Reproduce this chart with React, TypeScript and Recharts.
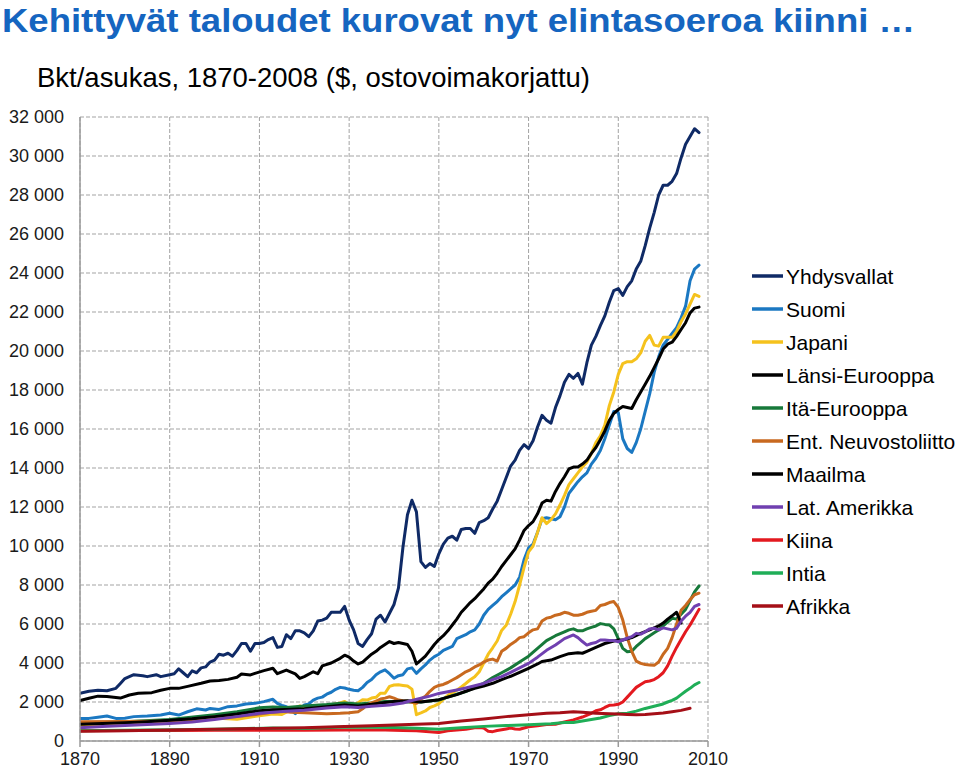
import React from 'react';
import { LineChart, Line, XAxis, YAxis, CartesianGrid } from 'recharts';

type Pt = [number, number];

const yhdysvallat: Pt[] = [
  [1870,2450],[1872,2550],[1874,2600],[1876,2580],[1878,2700],[1879,2950],[1880,3200],[1882,3400],[1884,3350],[1885,3300],
  [1887,3400],[1888,3300],[1890,3400],[1891,3450],[1892,3700],[1893,3500],[1894,3300],[1895,3600],[1896,3500],[1897,3750],
  [1898,3800],[1899,4050],[1900,4150],[1901,4450],[1902,4400],[1903,4500],[1904,4350],[1905,4650],[1906,5000],[1907,5000],
  [1908,4600],[1909,5000],[1910,5000],[1911,5050],[1912,5200],[1913,5300],[1914,4800],[1915,4850],[1916,5450],[1917,5250],
  [1918,5650],[1919,5650],[1920,5550],[1921,5350],[1922,5650],[1923,6150],[1924,6200],[1925,6300],[1926,6600],[1927,6600],
  [1928,6600],[1929,6900],[1930,6200],[1931,5700],[1932,5000],[1933,4850],[1934,5200],[1935,5500],[1936,6250],[1937,6450],
  [1938,6100],[1939,6550],[1940,7000],[1941,7850],[1942,9950],[1943,11600],[1944,12350],[1945,11750],[1946,9200],[1947,8900],
  [1948,9100],[1949,8950],[1950,9600],[1951,10100],[1952,10400],[1953,10500],[1954,10300],[1955,10850],[1956,10900],[1957,10900],
  [1958,10650],[1959,11200],[1960,11300],[1961,11450],[1962,11900],[1963,12300],[1964,12900],[1965,13500],[1966,14100],[1967,14400],
  [1968,14900],[1969,15200],[1970,15000],[1971,15400],[1972,16100],[1973,16700],[1974,16450],[1975,16300],[1976,17100],[1977,17700],
  [1978,18400],[1979,18800],[1980,18600],[1981,18850],[1982,18300],[1983,19400],[1984,20300],[1985,20750],[1986,21300],[1987,21800],
  [1988,22500],[1989,23100],[1990,23200],[1991,22850],[1992,23300],[1993,23600],[1994,24200],[1995,24600],[1996,25400],[1997,26300],
  [1998,27100],[1999,28000],[2000,28500],[2001,28500],[2002,28700],[2003,29100],[2004,29900],[2005,30600],[2006,31000],[2007,31400],
  [2008,31200],
];

const suomi: Pt[] = [
  [1870,1160],[1872,1160],[1874,1220],[1876,1280],[1878,1160],[1880,1170],[1882,1250],[1885,1280],[1888,1330],[1890,1420],
  [1892,1330],[1894,1500],[1896,1650],[1898,1590],[1899,1670],[1901,1620],[1903,1760],[1905,1800],[1907,1900],[1909,1930],
  [1911,2020],[1913,2140],[1914,1930],[1915,1830],[1916,1760],[1917,1600],[1918,1400],[1919,1600],[1920,1850],[1921,1900],
  [1922,2100],[1923,2200],[1924,2250],[1925,2400],[1926,2500],[1927,2650],[1928,2750],[1929,2720],[1930,2650],[1931,2600],
  [1932,2580],[1933,2750],[1934,3000],[1935,3150],[1936,3400],[1937,3550],[1938,3650],[1939,3450],[1940,3220],[1941,3350],
  [1942,3400],[1943,3700],[1944,3750],[1945,3470],[1946,3700],[1947,3900],[1948,4150],[1949,4330],[1950,4450],[1951,4650],
  [1952,4750],[1953,4850],[1954,5250],[1955,5350],[1956,5450],[1957,5600],[1958,5700],[1959,6000],[1960,6450],[1961,6750],
  [1962,6950],[1963,7150],[1964,7400],[1965,7600],[1966,7800],[1967,8000],[1968,8400],[1969,9300],[1970,9900],[1971,10100],
  [1972,10700],[1973,11400],[1974,11450],[1975,11400],[1976,11350],[1977,11500],[1978,12000],[1979,12700],[1980,13000],[1981,13300],
  [1982,13550],[1983,13750],[1984,14200],[1985,14500],[1986,14900],[1987,15500],[1988,16200],[1989,16900],[1990,16850],[1991,15500],
  [1992,15000],[1993,14800],[1994,15300],[1995,16000],[1996,16900],[1997,17800],[1998,18900],[1999,19700],[2000,20300],[2001,20600],
  [2002,20900],[2003,21200],[2004,21700],[2005,22300],[2006,23600],[2007,24200],[2008,24400],
];

const japani: Pt[] = [
  [1870,740],[1875,800],[1880,860],[1885,870],[1890,1010],[1895,1070],[1900,1180],[1905,1110],[1910,1300],[1913,1390],
  [1915,1360],[1917,1600],[1919,1800],[1920,1700],[1922,1750],[1925,1800],[1928,1950],[1929,2030],[1930,1850],[1931,1850],
  [1932,1960],[1933,2120],[1934,2100],[1935,2200],[1936,2240],[1937,2450],[1938,2450],[1939,2800],[1940,2870],[1941,2880],
  [1942,2850],[1943,2820],[1944,2660],[1945,1350],[1946,1440],[1947,1540],[1948,1720],[1949,1800],[1950,1920],[1951,2130],
  [1952,2340],[1953,2470],[1954,2600],[1955,2770],[1956,2950],[1957,3140],[1958,3290],[1959,3550],[1960,4000],[1961,4450],
  [1962,4780],[1963,5130],[1964,5670],[1965,5930],[1966,6500],[1967,7150],[1968,8000],[1969,8900],[1970,9700],[1971,10000],
  [1972,10700],[1973,11450],[1974,11150],[1975,11350],[1976,11650],[1977,12100],[1978,12600],[1979,13150],[1980,13450],[1981,13750],
  [1982,14050],[1983,14300],[1984,14750],[1985,15300],[1986,15650],[1987,16200],[1988,17200],[1989,17900],[1990,18800],[1991,19350],
  [1992,19450],[1993,19450],[1994,19600],[1995,19900],[1996,20500],[1997,20800],[1998,20300],[1999,20250],[2000,20700],[2001,20700],
  [2002,20700],[2003,21000],[2004,21500],[2005,21900],[2006,22400],[2007,22900],[2008,22800],
];

const lansiEurooppa: Pt[] = [
  [1870,2070],[1872,2190],[1874,2300],[1876,2280],[1877,2260],[1879,2200],[1881,2360],[1883,2450],[1886,2480],[1888,2600],
  [1890,2700],[1892,2700],[1894,2800],[1897,2960],[1899,3080],[1901,3100],[1903,3160],[1905,3270],[1906,3440],[1908,3390],
  [1909,3470],[1911,3610],[1913,3730],[1914,3450],[1916,3640],[1918,3440],[1919,3210],[1920,3300],[1922,3550],[1923,3450],
  [1924,3850],[1926,4000],[1928,4240],[1929,4400],[1930,4300],[1931,4100],[1932,3950],[1933,4050],[1934,4250],[1935,4450],
  [1936,4600],[1937,4800],[1938,4950],[1939,5100],[1940,5000],[1941,5050],[1942,5000],[1943,4950],[1944,4600],[1945,3950],
  [1946,4150],[1947,4350],[1948,4650],[1949,4950],[1950,5200],[1951,5400],[1952,5650],[1953,5950],[1954,6250],[1955,6600],
  [1956,6850],[1957,7100],[1958,7300],[1959,7550],[1960,7800],[1961,8100],[1962,8300],[1963,8600],[1964,8950],[1965,9250],
  [1966,9550],[1967,9850],[1968,10300],[1969,10800],[1970,11050],[1971,11250],[1972,11650],[1973,12200],[1974,12350],[1975,12300],
  [1976,12800],[1977,13200],[1978,13550],[1979,13950],[1980,14050],[1981,14050],[1982,14200],[1983,14400],[1984,14750],[1985,15050],
  [1986,15450],[1987,15900],[1988,16450],[1989,16800],[1990,17000],[1991,17150],[1992,17100],[1993,17050],[1994,17500],[1995,17900],
  [1996,18300],[1997,18700],[1998,19150],[1999,19600],[2000,20100],[2001,20350],[2002,20450],[2003,20750],[2004,21100],[2005,21450],
  [2006,21950],[2007,22200],[2008,22250],
];

const itaEurooppa: Pt[] = [
  [1870,900],[1880,990],[1890,1100],[1900,1350],[1905,1500],[1910,1700],[1913,1750],[1916,1720],[1920,1800],[1925,1870],
  [1929,1950],[1932,1900],[1935,1950],[1938,2020],[1940,2030],[1943,2000],[1946,2000],[1950,2100],[1952,2250],[1954,2400],
  [1956,2530],[1958,2750],[1960,2960],[1962,3250],[1964,3500],[1966,3750],[1968,4050],[1970,4350],[1972,4750],[1974,5150],
  [1976,5400],[1978,5600],[1979,5700],[1980,5750],[1981,5650],[1982,5650],[1983,5750],[1984,5830],[1985,5900],[1986,6020],
  [1987,5980],[1988,5950],[1989,5750],[1990,5250],[1991,4750],[1992,4580],[1993,4600],[1994,4850],[1995,5050],[1996,5250],
  [1997,5400],[1998,5550],[1999,5690],[2000,5900],[2001,6100],[2002,6290],[2003,6250],[2004,6500],[2005,6750],[2006,7200],
  [2007,7650],[2008,7950],
];

const entNeuvostoliitto: Pt[] = [
  [1870,990],[1880,1000],[1890,1030],[1895,1100],[1900,1230],[1905,1250],[1910,1380],[1913,1480],[1915,1520],[1917,1480],
  [1920,1450],[1925,1400],[1928,1420],[1930,1450],[1932,1500],[1933,1650],[1934,1850],[1935,1950],[1936,2050],[1937,2150],
  [1938,2200],[1939,2270],[1940,2200],[1941,2100],[1942,2060],[1943,2040],[1944,1980],[1945,1930],[1946,2150],[1947,2300],
  [1948,2550],[1949,2750],[1950,2850],[1951,2900],[1952,3000],[1953,3130],[1954,3250],[1955,3400],[1956,3550],[1957,3650],
  [1958,3800],[1959,3900],[1960,4050],[1961,4150],[1962,4200],[1963,4100],[1964,4600],[1965,4750],[1966,4950],[1967,5100],
  [1968,5300],[1969,5350],[1970,5550],[1971,5700],[1972,5750],[1973,6150],[1974,6300],[1975,6350],[1976,6450],[1977,6500],
  [1978,6600],[1979,6550],[1980,6450],[1981,6450],[1982,6500],[1983,6600],[1984,6650],[1985,6700],[1986,6950],[1987,7000],
  [1988,7100],[1989,7150],[1990,6850],[1991,6200],[1992,5300],[1993,4600],[1994,4100],[1995,3980],[1996,3920],[1997,3900],
  [1998,3880],[1999,4050],[2000,4450],[2001,4750],[2002,5300],[2003,6000],[2004,6700],[2005,6950],[2006,7250],[2007,7500],
  [2008,7580],
];

const maailma: Pt[] = [
  [1870,860],[1875,900],[1880,940],[1885,990],[1890,1060],[1895,1140],[1900,1250],[1905,1380],[1910,1550],[1913,1600],
  [1916,1620],[1920,1650],[1925,1760],[1929,1850],[1932,1800],[1935,1880],[1938,1980],[1940,2030],[1943,2060],[1946,2000],
  [1950,2120],[1952,2250],[1954,2380],[1956,2550],[1958,2700],[1960,2820],[1962,2960],[1964,3150],[1966,3320],[1968,3520],
  [1970,3730],[1972,3950],[1973,4080],[1974,4120],[1975,4150],[1977,4330],[1979,4480],[1981,4520],[1982,4500],[1983,4600],
  [1985,4800],[1987,5000],[1989,5130],[1990,5180],[1991,5180],[1993,5300],[1995,5520],[1997,5700],[1999,5900],[2000,6050],
  [2001,6250],[2002,6420],[2003,6600],[2004,6050],
];

const latAmerikka: Pt[] = [
  [1870,680],[1875,740],[1880,790],[1885,840],[1890,900],[1895,980],[1900,1100],[1905,1250],[1910,1420],[1913,1480],
  [1916,1520],[1920,1580],[1925,1690],[1929,1760],[1932,1720],[1935,1780],[1939,1850],[1942,1950],[1944,2080],[1946,2190],
  [1948,2300],[1950,2440],[1952,2530],[1954,2620],[1956,2720],[1958,2830],[1960,2950],[1962,3150],[1964,3300],[1966,3520],
  [1968,3750],[1970,3980],[1972,4300],[1974,4650],[1976,4920],[1978,5250],[1980,5440],[1981,5300],[1982,5100],[1983,4920],
  [1984,5000],[1985,5050],[1986,5180],[1987,5180],[1988,5150],[1989,5150],[1990,5090],[1991,5180],[1992,5270],[1993,5350],
  [1994,5520],[1995,5480],[1996,5600],[1997,5750],[1998,5780],[1999,5700],[2000,5800],[2001,5750],[2002,5700],[2003,5780],
  [2004,6150],[2005,6400],[2006,6600],[2007,6900],[2008,7000],
];

const kiina: Pt[] = [
  [1870,530],[1880,540],[1890,540],[1900,545],[1913,550],[1920,555],[1929,560],[1933,570],[1938,560],[1942,540],
  [1945,520],[1950,440],[1952,520],[1954,560],[1956,600],[1958,680],[1959,690],[1960,660],[1961,500],[1962,480],
  [1963,540],[1965,620],[1966,660],[1967,620],[1968,600],[1970,730],[1972,780],[1974,850],[1976,860],[1978,980],
  [1980,1080],[1982,1230],[1984,1420],[1985,1550],[1986,1600],[1987,1720],[1988,1830],[1989,1850],[1990,1880],[1991,2000],
  [1992,2250],[1993,2500],[1994,2750],[1995,2900],[1996,3040],[1997,3080],[1998,3150],[1999,3300],[2000,3500],[2001,3850],
  [2002,4350],[2003,4800],[2004,5200],[2005,5600],[2006,5950],[2007,6350],[2008,6750],
];

const intia: Pt[] = [
  [1870,530],[1880,550],[1890,580],[1900,600],[1913,670],[1920,640],[1929,720],[1935,700],[1940,690],[1945,650],
  [1950,600],[1955,680],[1960,750],[1965,790],[1970,830],[1975,880],[1978,950],[1980,950],[1982,1030],[1984,1100],
  [1986,1180],[1988,1300],[1990,1400],[1992,1420],[1994,1530],[1996,1670],[1998,1780],[2000,1900],[2001,2000],[2002,2080],
  [2003,2200],[2004,2380],[2005,2550],[2006,2700],[2007,2880],[2008,3000],
];

const afrikka: Pt[] = [
  [1870,500],[1880,530],[1890,560],[1900,600],[1913,650],[1920,680],[1929,740],[1935,780],[1940,820],[1945,860],
  [1950,900],[1955,1020],[1960,1130],[1965,1250],[1970,1350],[1974,1420],[1977,1450],[1980,1500],[1982,1480],[1985,1420],
  [1988,1400],[1990,1380],[1992,1360],[1994,1340],[1996,1360],[1998,1400],[2000,1440],[2002,1500],[2004,1570],[2006,1680],
];

const seriesList = [
  { name: 'Yhdysvallat', color: '#0f2a66', points: yhdysvallat },
  { name: 'Suomi', color: '#1b78c2', points: suomi },
  { name: 'Japani', color: '#f5c21d', points: japani },
  { name: 'Länsi-Eurooppa', color: '#000000', points: lansiEurooppa },
  { name: 'Itä-Eurooppa', color: '#17793a', points: itaEurooppa },
  { name: 'Ent. Neuvostoliitto', color: '#c8691f', points: entNeuvostoliitto },
  { name: 'Maailma', color: '#000000', points: maailma },
  { name: 'Lat. Amerikka', color: '#7040b0', points: latAmerikka },
  { name: 'Kiina', color: '#e3191f', points: kiina },
  { name: 'Intia', color: '#1fae57', points: intia },
  { name: 'Afrikka', color: '#a50f17', points: afrikka },
];

const xTicks = [1870, 1890, 1910, 1930, 1950, 1970, 1990, 2010];
const yTicks = [0, 2000, 4000, 6000, 8000, 10000, 12000, 14000, 16000, 18000, 20000, 22000, 24000, 26000, 28000, 30000, 32000];
const titleText = 'Kehittyvät taloudet kurovat nyt elintasoeroa kiinni …';
const subtitleText = 'Bkt/asukas, 1870-2008 ($, ostovoimakorjattu)';

const FONT = '"Liberation Sans", Arial, sans-serif';

const formatY = (v: number) => {
  if (v === 0) return '0';
  const th = Math.floor(v / 1000);
  const rest = String(v % 1000).padStart(3, '0');
  return `${th} ${rest}`;
};

export default function App() {
  return (
    <div style={{ position: 'absolute', left: 0, top: 0, width: 960, height: 771, background: '#fff', fontFamily: FONT }}>
      <LineChart width={960} height={771} margin={{ top: 117, right: 252, bottom: 0, left: 0 }}>
        <CartesianGrid stroke="#a3a3a3" strokeDasharray="4 2" strokeWidth={1} />
        <XAxis
          type="number"
          dataKey="year"
          domain={[1870, 2010]}
          ticks={xTicks}
          interval={0}
          height={30}
          tickSize={6}
          tickMargin={5}
          axisLine={{ stroke: '#9a9a9a', strokeWidth: 1.5 }}
          tickLine={{ stroke: '#9a9a9a', strokeWidth: 1.5 }}
          tick={{ fontSize: 18, fill: '#1a1a1a', fontFamily: FONT }}
          allowDataOverflow
        />
        <YAxis
          type="number"
          domain={[0, 32000]}
          ticks={yTicks}
          interval={0}
          width={80}
          tickLine={false}
          tickMargin={16}
          tickSize={0}
          axisLine={{ stroke: '#9a9a9a', strokeWidth: 1.5 }}
          tickFormatter={formatY}
          tick={{ fontSize: 18, fill: '#1a1a1a', fontFamily: FONT }}
          allowDataOverflow
        />
        {seriesList.map((s) => (
          <Line
            key={s.name}
            name={s.name}
            data={s.points.map(([year, value]) => ({ year, value }))}
            dataKey="value"
            type="linear"
            stroke={s.color}
            strokeWidth={3}
            dot={false}
            activeDot={false}
            isAnimationActive={false}
            strokeLinejoin="round"
            strokeLinecap="round"
          />
        ))}
      </LineChart>
      <svg width={960} height={771} style={{ position: 'absolute', left: 0, top: 0, pointerEvents: 'none' }}>
        <text x={2} y={32} fontFamily={FONT} fontWeight="bold" fontSize={34} fill="#1565c0" textLength={913} lengthAdjust="spacingAndGlyphs">
          {titleText}
        </text>
        <text x={37} y={87} fontFamily={FONT} fontSize={28} fill="#000" textLength={553} lengthAdjust="spacingAndGlyphs">
          {subtitleText}
        </text>
        {seriesList.map((s, i) => {
          const cy = 276 + i * 33;
          return (
            <g key={s.name}>
              <line x1={752} x2={783} y1={cy} y2={cy} stroke={s.color} strokeWidth={3.5} />
              <text x={786} y={cy + 7.5} fontFamily={FONT} fontSize={21} fill="#000">
                {s.name}
              </text>
            </g>
          );
        })}
      </svg>
    </div>
  );
}
